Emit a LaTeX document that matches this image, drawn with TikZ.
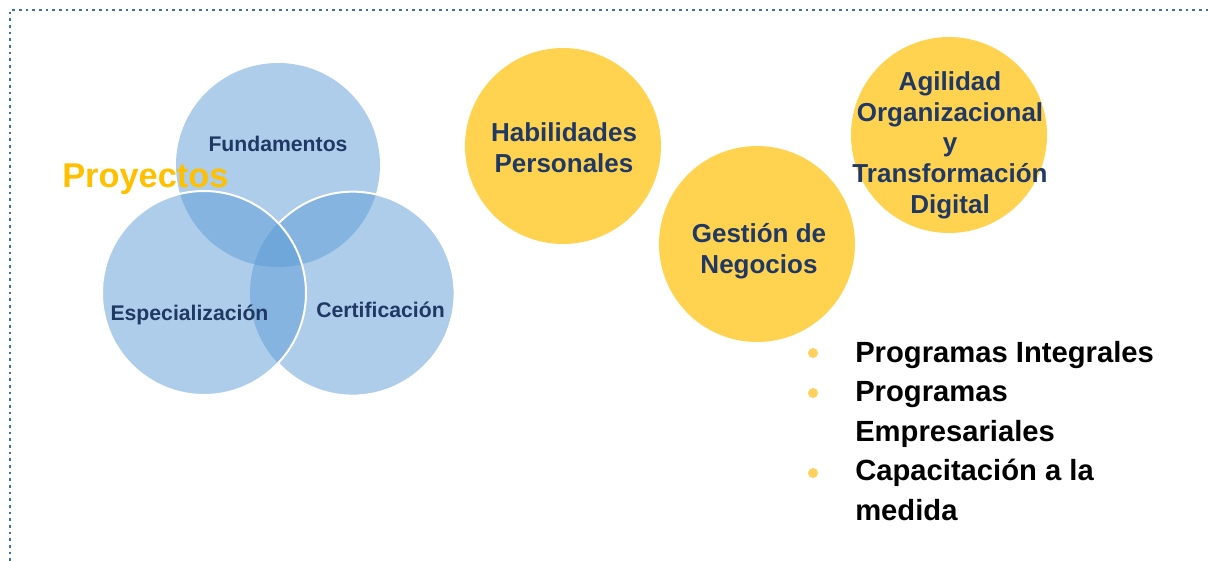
\documentclass[tikz,border=0pt]{standalone}
\usepackage{fontspec}
\setmainfont{Liberation Sans}
\definecolor{navy}{HTML}{1F3864}
\definecolor{vennblue}{HTML}{5B9BD5}
\definecolor{gold}{HTML}{FFD350}
\definecolor{bulletcol}{HTML}{FFD05E}
\definecolor{orangetxt}{HTML}{FFC000}
\definecolor{bordercol}{HTML}{41709F}
\tikzset{
  venn/.style={circle, fill=vennblue, fill opacity=0.5, draw=none, minimum size=153pt, inner sep=0pt, outer sep=0pt},
  ybubble/.style={circle, fill=gold, draw=none, minimum size=147pt, inner sep=0pt, outer sep=0pt},
  venntxt/.style={text=navy, font=\fontsize{15.9pt}{19pt}\selectfont\bfseries, inner sep=0pt},
  ytxt/.style={text=navy, font=\fontsize{19.5pt}{23pt}\selectfont\bfseries, align=center, inner sep=0pt},
  listtxt/.style={text=black, font=\fontsize{21.9pt}{29.6pt}\selectfont\bfseries, anchor=base west, inner sep=0pt},
  bulletdot/.style={circle, fill=bulletcol, minimum size=7.5pt, inner sep=0pt},
  dotborder/.style={draw=bordercol, line width=2.2pt, dash pattern=on 2.1pt off 2.9pt}
}
\begin{document}
\begin{tikzpicture}[x=0.75pt, y=-0.75pt]
\useasboundingbox (0,0) rectangle (1208,561);
% border
\coordinate (bl) at (10,561);
\coordinate (tl) at (10,10);
\coordinate (tr) at (1208,10);
\draw[dotborder] (bl) -- (tl) -- (tr);
% Venn
\node[venn] (fund) at (278,165) {};
\node[venn] (cert) at (352,293) {};
\node[venn] (esp) at (204,293) {};
\draw[white, line width=1.5pt] (cert.-136.5) arc[start angle=-136.5, end angle=136.5, radius=76.5pt];
\draw[white, line width=1.5pt] (esp.center) circle[radius=76.5pt];
\node[venntxt, anchor=base] (tfund) at (278,151) {Fundamentos};
\node[venntxt, anchor=base] (tesp) at (189.5,320) {Especialización};
\node[venntxt, anchor=base] (tcert) at (380.5,317) {Certificación};
\node[text=orangetxt, font=\fontsize{25.8pt}{30pt}\selectfont\bfseries, anchor=base west, inner sep=0pt] (proy) at (62,187) {Proyectos};
% yellow bubbles
\node[ybubble] (hab) at (563,146) {};
\node[ybubble] (ges) at (757,244) {};
\node[ybubble] (agi) at (949,135) {};
\node[ytxt] (thab) at (564,148) {Habilidades\\Personales};
\node[ytxt] (tges) at (759,251) {Gestión de\\Negocios};
\node[ytxt] (tagi) at (950,145) {Agilidad\\Organizacional\\y\\Transformación\\Digital};
% list
\node[bulletdot] (b1) at (813,353) {};
\node[bulletdot] (b2) at (813,393) {};
\node[bulletdot] (b3) at (813,473) {};
\node[listtxt] (l1) at (855,362) {Programas Integrales};
\node[listtxt] (l2) at (855,401.5) {Programas};
\node[listtxt] (l3) at (855,441) {Empresariales};
\node[listtxt] (l4) at (855,480.5) {Capacitación a la};
\node[listtxt] (l5) at (855,520) {medida};
\end{tikzpicture}
\end{document}
